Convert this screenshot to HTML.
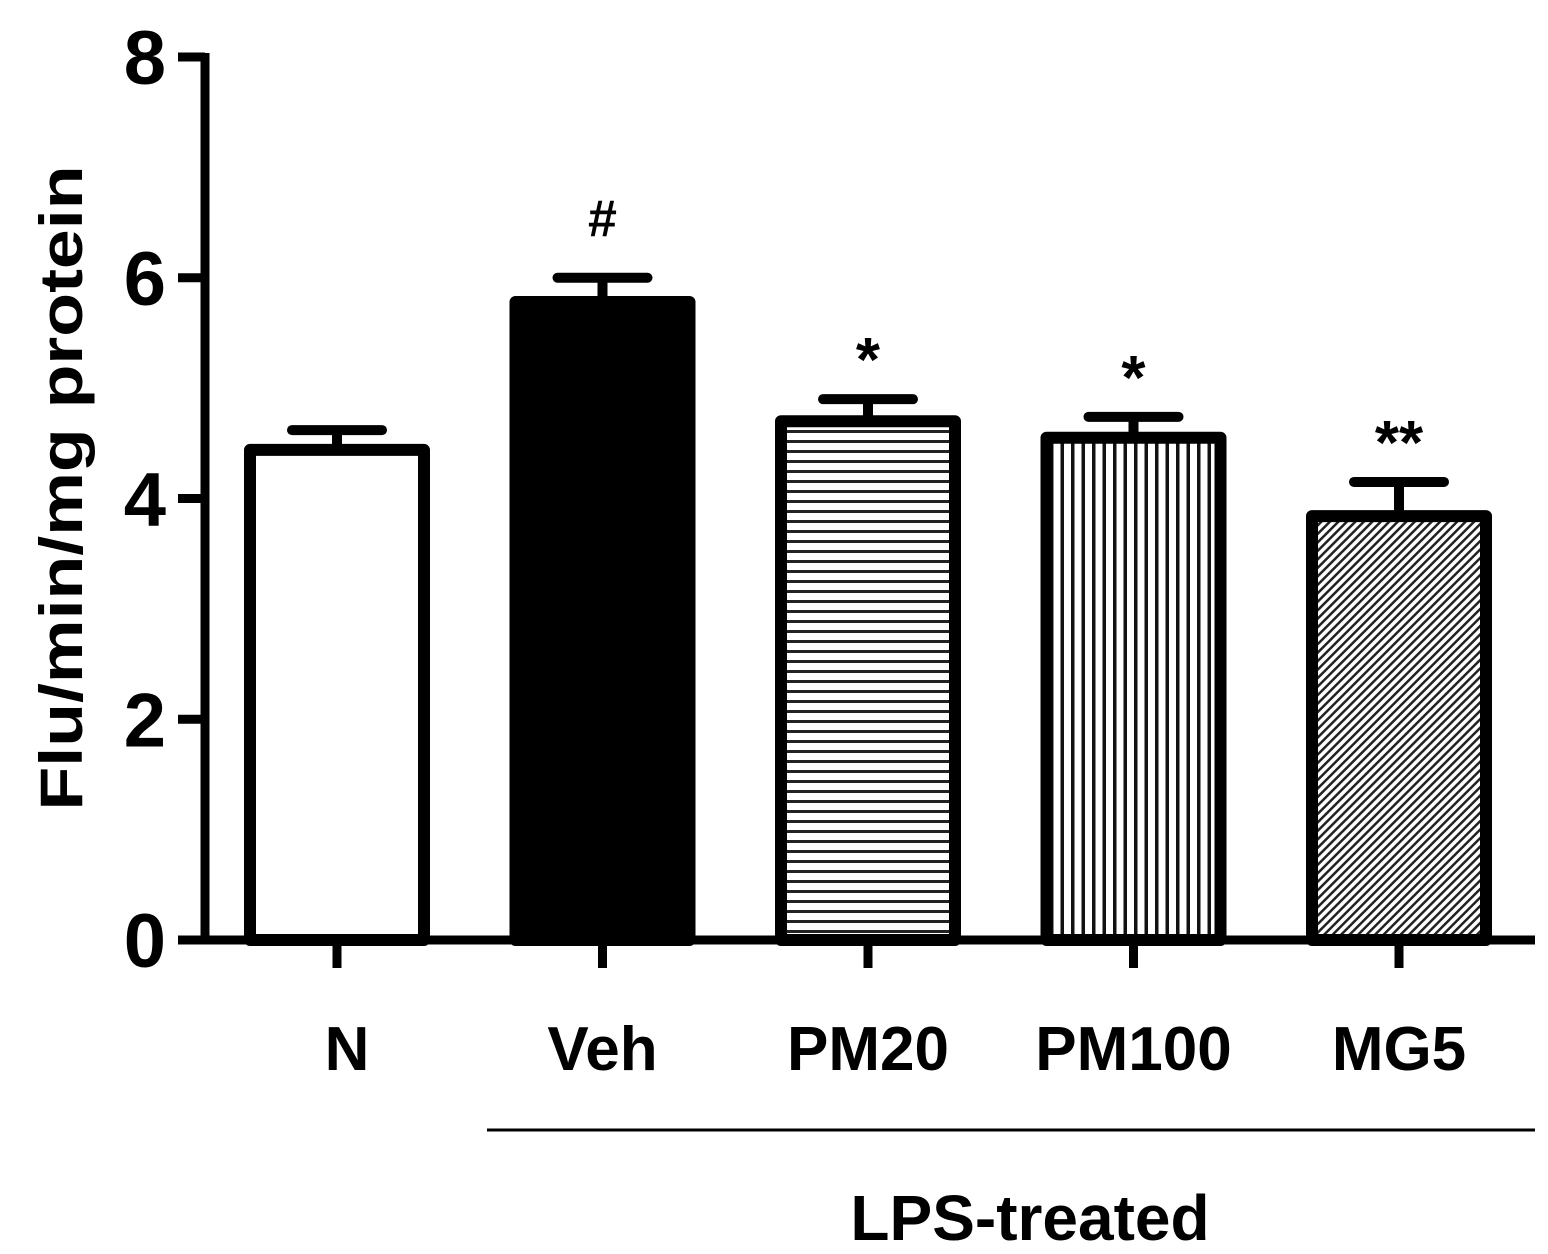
<!DOCTYPE html>
<html><head><meta charset="utf-8"><style>
html,body{margin:0;padding:0;background:#fff;}
svg{display:block;font-family:"Liberation Sans",Arial,sans-serif;font-weight:bold;}
</style></head><body>
<svg id="chart" width="1548" height="1254" viewBox="0 0 1548 1254" xmlns="http://www.w3.org/2000/svg">
<defs>
<pattern id="hpat" width="10" height="10" patternUnits="userSpaceOnUse"><rect width="10" height="10" fill="#fff"/><rect y="0" width="10" height="3" fill="#222"/></pattern>
<pattern id="vpat" width="10.5" height="10" patternUnits="userSpaceOnUse"><rect width="10.5" height="10" fill="#fff"/><rect x="0" width="3.5" height="10" fill="#111"/></pattern>
<pattern id="dpat" width="6" height="6" patternUnits="userSpaceOnUse" patternTransform="rotate(45)"><rect width="6" height="6" fill="#fff"/><rect width="2.5" height="6" fill="#222"/></pattern>
</defs>
<g id="bars"></g>
<g id="axes"></g>
</svg>
<script>
const categories = ["N","Veh","PM20","PM100","MG5"];
const values = [4.44, 5.78, 4.70, 4.55, 3.84];
const errors = [0.18, 0.22, 0.20, 0.19, 0.31];
const marks = ["", "#", "*", "*", "**"];
const fills = ["#fff","#000","url(#hpat)","url(#vpat)","url(#dpat)"];
const yTicks = [0,2,4,6,8];

const NS="http://www.w3.org/2000/svg";
const y0=940, y8=57, xStart=205;
function yS(v){return y0-(y0-y8)*v/8;}
function xC(i){return 337+i*265.5;}
const barW=174;
function mk(tag,attrs,parent,text){const e=document.createElementNS(NS,tag);for(const k in attrs)e.setAttribute(k,attrs[k]);if(text!==undefined)e.textContent=text;parent.appendChild(e);return e;}
const bars=document.getElementById('bars'), axes=document.getElementById('axes');

categories.forEach((c,i)=>{
  const cx=xC(i), top=yS(values[i]), et=yS(values[i]+errors[i]);
  const eb=mk('line',{x1:cx,x2:cx,y1:top,y2:et,stroke:'#000','stroke-width':10},bars);
  
  
  const cap=mk('line',{x1:cx-45,x2:cx+45,y1:et,y2:et,stroke:'#000','stroke-width':10,'stroke-linecap':'round'},bars);
  
  
  const r=mk('rect',{x:cx-barW/2,y:top,width:barW,height:y0-top,fill:fills[i],stroke:'#000','stroke-width':12,'stroke-linejoin':'round'},bars);
  
  
  if(marks[i]){
    const m=mk('text',{x:cx,y:et-(marks[i]==='#'?42:18),'text-anchor':'middle','font-size':marks[i]==='#'?52:62,fill:'#000'},bars,marks[i]);
    
    
  }
  const t=mk('line',{x1:cx,x2:cx,y1:y0,y2:968,stroke:'#000','stroke-width':9},axes);
  
  
  const l=mk('text',{x:cx+(i===0?10:0),y:1070,'text-anchor':'middle','font-size':62,fill:'#000'},axes,c);
  
  
});

const ya=mk('line',{x1:xStart,x2:xStart,y1:y8-4,y2:y0+4,stroke:'#000','stroke-width':9},axes);


const xa=mk('line',{x1:178,x2:1535,y1:y0,y2:y0,stroke:'#000','stroke-width':9},axes);


yTicks.forEach(v=>{
  const y=yS(v);
  const t=mk('line',{x1:178,x2:xStart,y1:y,y2:y,stroke:'#000','stroke-width':9},axes);
  
  
  const l=mk('text',{x:166,y:y+27,'text-anchor':'end','font-size':76,fill:'#000'},axes,String(v));
  
  
});
const yt=mk('text',{x:0,y:0,transform:'translate(82,488) rotate(-90)','text-anchor':'middle','font-size':60,textLength:645,lengthAdjust:'spacingAndGlyphs',fill:'#000'},axes,'Flu/min/mg protein');


const gl=mk('line',{x1:487,x2:1535,y1:1130,y2:1130,stroke:'#000','stroke-width':3},axes);


const gt=mk('text',{x:1030,y:1240,'text-anchor':'middle','font-size':64,fill:'#000'},axes,'LPS-treated');


</script>
</body></html>
